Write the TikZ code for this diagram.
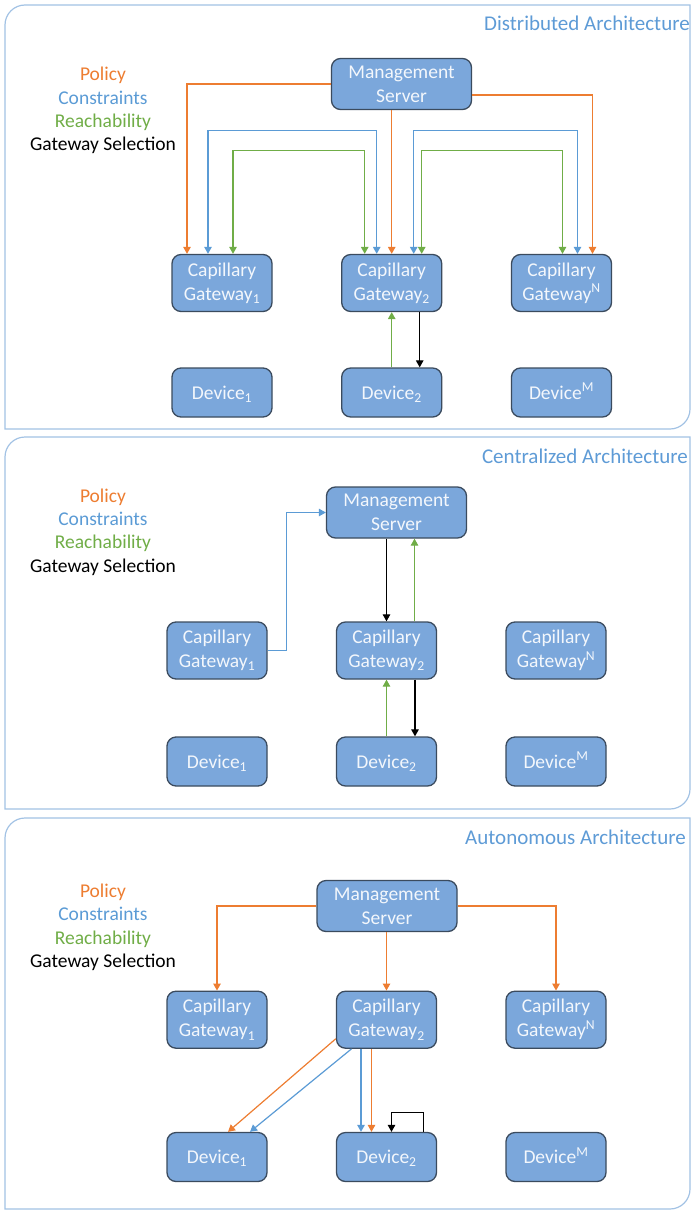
\documentclass[tikz,border=0pt]{standalone}
\usepackage{fontspec}
\setmainfont{Carlito}
\usepackage{xcolor}
\usetikzlibrary{arrows.meta}
\definecolor{policyc}{HTML}{ED7D31}
\definecolor{constrc}{HTML}{5B9BD5}
\definecolor{reachc}{HTML}{70AD47}
\definecolor{boxfill}{HTML}{7BA7DB}
\definecolor{boxline}{HTML}{3B4B5E}
\definecolor{boxtext}{HTML}{F3F7FC}
\definecolor{panelc}{HTML}{A2C2E4}
\definecolor{titlec}{HTML}{5E9BD6}
\tikzset{
  box/.style = {draw=boxline, fill=boxfill, line width=1.3pt, rounded corners=9pt,
                text=boxtext, align=center, inner sep=0pt,
                font=\fontsize{19.5}{24}\selectfont},
  server/.style = {box, minimum width=140pt, minimum height=51pt},
  gateway/.style = {box, minimum width=100pt, minimum height=57pt},
  device/.style = {box, minimum width=100pt, minimum height=49pt},
  link/.style = {line width=1.2pt, >={Triangle[width=7.5pt,length=7pt]}},
  policy/.style = {link, draw=policyc},
  constraint/.style = {link, draw=constrc},
  reach/.style = {link, draw=reachc},
  selection/.style = {link, draw=black},
  panel/.style = {draw=panelc, line width=1.2pt},
  heading/.style = {anchor=east, inner sep=0pt, text=titlec,
                    font=\fontsize{21}{25}\selectfont},
  legend/.style = {inner sep=0pt, text height=13pt, text depth=4pt,
                   font=\fontsize{19.5}{23}\selectfont}
}
\def\lo#1{\smash{\textsubscript{#1}}}
\def\hi#1{\smash{\textsuperscript{#1}}}

\begin{document}
\begin{tikzpicture}[x=1pt, y=-1pt]
	\useasboundingbox (0,0) rectangle (692,1212);
	
	% Panels
	\draw[panel] (5,429) [rounded corners=20pt] -- (5,5) [sharp corners] -- (690,5) [rounded corners=20pt] -- (690,429) [sharp corners] -- cycle;
	\draw[panel] (5,809) [rounded corners=20pt] -- (5,437) [sharp corners] -- (690,437) [rounded corners=20pt] -- (690,809) [sharp corners] -- cycle;
	\draw[panel] (5,1209) [rounded corners=20pt] -- (5,818) [sharp corners] -- (690,818) [rounded corners=20pt] -- (690,1209) [sharp corners] -- cycle;
	
	\node[heading] (titleD) at (690,23) {Distributed Architecture};
	\node[heading] (titleC) at (688,456) {Centralized Architecture};
	\node[heading] (titleA) at (686,837) {Autonomous Architecture};
	
	% Legends
	\node[legend, text=policyc] (polD) at (103,76) {Policy};
	\node[legend, text=constrc] (conD) at (103,100) {Constraints};
	\node[legend, text=reachc] (reaD) at (103,123) {Reachability};
	\node[legend] (selD) at (103,146) {Gateway Selection};
	
	\node[legend, text=policyc] (polC) at (103,498) {Policy};
	\node[legend, text=constrc] (conC) at (103,521) {Constraints};
	\node[legend, text=reachc] (reaC) at (103,544) {Reachability};
	\node[legend] (selC) at (103,568) {Gateway Selection};
	
	\node[legend, text=policyc] (polA) at (103,893) {Policy};
	\node[legend, text=constrc] (conA) at (103,916) {Constraints};
	\node[legend, text=reachc] (reaA) at (103,940) {Reachability};
	\node[legend] (selA) at (103,963) {Gateway Selection};
	
	% Distributed
	\node[server] (srvD) at (401.5,84) {Management\\Server};
	\node[gateway] (gw1D) at (222,283) {Capillary\\Gateway\lo{1}};
	\node[gateway] (gw2D) at (391.7,283) {Capillary\\Gateway\lo{2}};
	\node[gateway] (gwND) at (561.5,283) {Capillary\\Gateway\hi{N}};
	\node[device] (dev1D) at (222,392.5) {Device\lo{1}};
	\node[device] (dev2D) at (391.7,392.5) {Device\lo{2}};
	\node[device] (devMD) at (561.5,392.5) {Device\hi{M}};
	
	\draw[policy,->] (srvD.west) -| ([xshift=-35pt]gw1D.north);
	\draw[policy,->] (gw2D.north |- srvD.south) -- (gw2D.north);
	\draw[policy,->] ([yshift=-11pt]srvD.east) -| ([xshift=31pt]gwND.north);
	\draw[constraint,<->] ([xshift=-14pt]gw1D.north) -- ++(0,-123) -| ([xshift=-15pt]gw2D.north);
	\draw[reach,<->] ([xshift=11pt]gw1D.north) -- ++(0,-103) -| ([xshift=-27pt]gw2D.north);
	\draw[constraint,<->] ([xshift=22pt]gw2D.north) -- ++(0,-123) -| ([xshift=16pt]gwND.north);
	\draw[reach,<->] ([xshift=30pt]gw2D.north) -- ++(0,-103) -| ([xshift=1pt]gwND.north);
	\draw[reach,->] (dev2D.north) -- (gw2D.south);
	\draw[selection,->] ([xshift=28pt]gw2D.south) -- ([xshift=28pt]dev2D.north);
	
	% Centralized
	\node[server] (srvC) at (396.5,512.5) {Management\\Server};
	\node[gateway] (gw1C) at (217,650.5) {Capillary\\Gateway\lo{1}};
	\node[gateway] (gw2C) at (386.5,650.5) {Capillary\\Gateway\lo{2}};
	\node[gateway] (gwNC) at (556,650.5) {Capillary\\Gateway\hi{N}};
	\node[device] (dev1C) at (217,761.5) {Device\lo{1}};
	\node[device] (dev2C) at (386.5,761.5) {Device\lo{2}};
	\node[device] (devMC) at (556,761.5) {Device\hi{M}};
	
	\coordinate (upC) at ([xshift=28pt]gw2C.north);
	\draw[constraint,->] (gw1C.east) -- ++(19,0) |- (srvC.west);
	\draw[selection,->] (gw2C.north |- srvC.south) -- (gw2C.north);
	\draw[reach,->] (upC) -- (upC |- srvC.south);
	\draw[reach,->] (dev2C.north) -- (gw2C.south);
	\draw[selection,->] ([xshift=28.5pt]gw2C.south) -- ([xshift=28.5pt]dev2C.north);
	
	% Autonomous
	\node[server] (srvA) at (387,906) {Management\\Server};
	\node[gateway] (gw1A) at (217,1019.7) {Capillary\\Gateway\lo{1}};
	\node[gateway] (gw2A) at (386.5,1019.7) {Capillary\\Gateway\lo{2}};
	\node[gateway] (gwNA) at (556,1019.7) {Capillary\\Gateway\hi{N}};
	\node[device] (dev1A) at (217,1157) {Device\lo{1}};
	\node[device] (dev2A) at (386.5,1157) {Device\lo{2}};
	\node[device] (devMA) at (556,1157) {Device\hi{M}};
	
	\draw[policy,->] (srvA.west) -| (gw1A.north);
	\draw[policy,->] (gw2A.north |- srvA.south) -- (gw2A.north);
	\draw[policy,->] (srvA.east) -| (gwNA.north);
	\draw[policy,->] ([yshift=-19pt]gw2A.west) -- ([xshift=11pt]dev1A.north);
	\draw[constraint,->] ([xshift=-35pt]gw2A.south) -- ([xshift=33pt]dev1A.north);
	\draw[constraint,->] ([xshift=-25.5pt]gw2A.south) -- ([xshift=-25.5pt]dev2A.north);
	\draw[policy,->] ([xshift=-15pt]gw2A.south) -- ([xshift=-15pt]dev2A.north);
	\draw[selection,->] ([xshift=37pt]dev2A.north) -- ++(0,-19) -| ([xshift=5pt]dev2A.north);
	
\end{tikzpicture}
\end{document}
